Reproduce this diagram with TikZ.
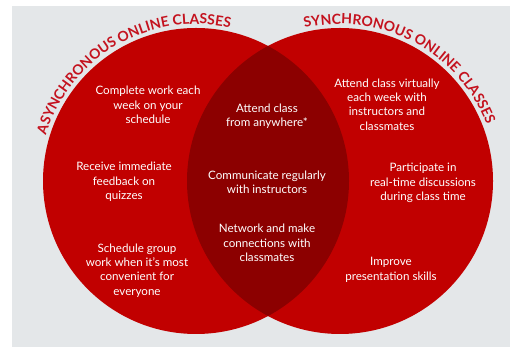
\documentclass[tikz,border=0pt]{standalone}
\usepackage{fontspec}
\setmainfont{Lato}
\usetikzlibrary{decorations.text}
\definecolor{bgGray}{RGB}{228,231,233}
\definecolor{circRed}{RGB}{193,0,0}
\definecolor{lensRed}{RGB}{140,0,0}
\definecolor{titleRed}{RGB}{196,18,30}
\newcommand\vtitlefont{\fontsize{14}{14}\selectfont\bfseries}
\begin{document}
\begin{tikzpicture}[x=1pt,y=1pt,
  lbl/.style={text=white, align=center, font=\fontsize{11.6}{14.4}\selectfont},
  arctitle/.style={decorate, decoration={text along path, text align=fit to path, text={|\color{titleRed}\vtitlefont|#1}}}]
\useasboundingbox (0,0) rectangle (510,347);
\fill[white] (0,0) rectangle (510,347);
\fill[bgGray] (12,0) rectangle (510,341);
\coordinate (L) at (196,166);
\coordinate (R) at (340,166);
\fill[circRed] (L) circle (153pt);
\fill[circRed] (R) circle (153pt);
\begin{scope}
  \clip (L) circle (153pt);
  \fill[lensRed] (R) circle (153pt);
\end{scope}
\path[arctitle={ASYNCHRONOUS ONLINE CLASSES}] ([shift={(163:157pt)}]L) arc[start angle=163, end angle=77.5, radius=157pt];
\path[arctitle={SYNCHRONOUS ONLINE CLASSES}] ([shift={(103:157pt)}]R) arc[start angle=103, end angle=21, radius=157pt];
\node[lbl] (l1) at (148,242) {Complete work each\\week on your\\schedule};
\node[lbl] (l2) at (124,165) {Receive immediate\\feedback on\\quizzes};
\node[lbl] (l3) at (137,76.5) {Schedule group\\work when it’s most\\convenient for\\everyone};
\node[lbl] (c1) at (267,231) {Attend class\\from anywhere*};
\node[lbl] (c2) at (267,165) {Communicate regularly\\with instructors};
\node[lbl] (c3) at (267,104) {Network and make\\connections with\\classmates};
\node[lbl] (r1) at (387,242.5) {Attend class virtually\\each week with\\instructors and\\classmates};
\node[lbl] (r2) at (423,164) {Participate in\\real-time discussions\\during class time};
\node[lbl] (r3) at (391,77) {Improve\\presentation skills};
\end{tikzpicture}
\end{document}
